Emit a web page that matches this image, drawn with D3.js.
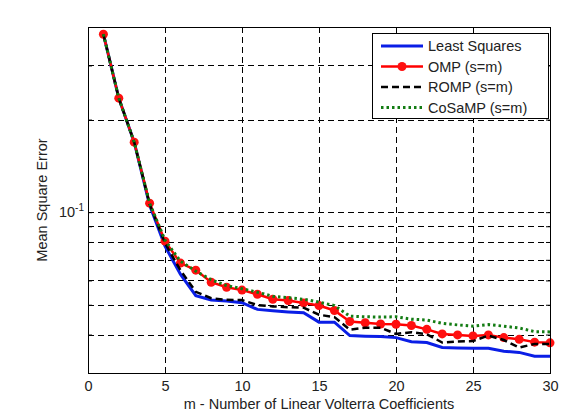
<!DOCTYPE html>
<html><head><meta charset="utf-8">
<script src="https://cdn.jsdelivr.net/npm/d3@7"></script>
<style>body{margin:0;background:#fff}svg{display:block}text{font-family:Arial,"Liberation Sans",sans-serif;fill:#222}</style>
</head><body><div id="chart"></div>
<script>
const mValues = d3.range(1, 31);
const leastSquares = [0.379,0.2348,0.1689,0.1054,0.0775,0.0629,0.0535,0.0518,0.0514,0.0508,0.0483,0.0478,0.0474,0.0471,0.0439,0.0439,0.0397,0.0395,0.0394,0.0391,0.0379,0.0377,0.0363,0.0362,0.0361,0.0361,0.0353,0.0350,0.0340,0.0340];
const omp = [0.379,0.2348,0.1689,0.1070,0.0805,0.0683,0.0648,0.0592,0.0570,0.0558,0.0541,0.0521,0.0516,0.0507,0.0497,0.0479,0.0441,0.0437,0.0433,0.0432,0.0428,0.0416,0.0402,0.0399,0.0396,0.0399,0.0391,0.0386,0.0378,0.0376];
const romp = [0.379,0.2348,0.1689,0.1062,0.0793,0.0648,0.0551,0.0525,0.0519,0.0518,0.0499,0.0494,0.0491,0.0489,0.0464,0.0456,0.0415,0.0421,0.0421,0.0402,0.0407,0.0401,0.0377,0.0380,0.0381,0.0397,0.0384,0.0363,0.0373,0.0373];
const cosamp = [0.379,0.2348,0.1689,0.1070,0.0811,0.0693,0.0643,0.0603,0.0577,0.0564,0.0549,0.0533,0.0527,0.0521,0.0510,0.0497,0.0459,0.0457,0.0456,0.0457,0.0449,0.0446,0.0435,0.0430,0.0426,0.0431,0.0426,0.0420,0.0409,0.0408];
const xTicks = [0,5,10,15,20,25,30];
const yGrid = [0.04,0.05,0.06,0.07,0.08,0.09,0.1,0.2,0.3];
const yTickLabels = [{v:0.1, base:"10", exp:"-1"}];
const seriesNames = ["Least Squares","OMP (s=m)","ROMP (s=m)","CoSaMP (s=m)"];

const W = 587, H = 413;
const L = 88, R = 550, T = 27, B = 373;
const svg = d3.select("#chart").append("svg").attr("width", W).attr("height", H);
const x = d3.scaleLinear().domain([0,30]).range([L,R]);
const y = d3.scaleLog().domain([0.03,0.4]).range([B,T]);

// grid
const g = svg.append("g");
g.selectAll(".vg").data(xTicks.filter(d=>d>0&&d<30)).join("line")
  .attr("x1",d=>x(d)+0.5).attr("x2",d=>x(d)+0.5).attr("y1",T).attr("y2",B)
  .attr("stroke","#000").attr("stroke-width",1).attr("stroke-dasharray","6,4");
g.selectAll(".hg").data(yGrid).join("line")
  .attr("x1",L).attr("x2",R).attr("y1",d=>Math.round(y(d))+0.5).attr("y2",d=>Math.round(y(d))+0.5)
  .attr("stroke","#000").attr("stroke-width",1).attr("stroke-dasharray","6,4");

// axes
const xAxis = d3.axisBottom(x).tickValues(xTicks).tickSize(-5).tickPadding(8);
const ax = svg.append("g").attr("transform",`translate(0,${B})`).call(xAxis);
ax.select(".domain").remove();
ax.selectAll("text").style("font-size","14.5px").attr("fill","#222");
const axT = svg.append("g").attr("transform",`translate(0,${T})`).call(d3.axisTop(x).tickValues(xTicks).tickSize(-5).tickFormat(""));
axT.select(".domain").remove();
const yl = svg.append("g").attr("transform",`translate(${L},0)`).call(d3.axisLeft(y).tickValues(yGrid).tickSize(-4).tickFormat(""));
yl.select(".domain").remove();
const yr = svg.append("g").attr("transform",`translate(${R},0)`).call(d3.axisRight(y).tickValues(yGrid).tickSize(-4).tickFormat(""));
yr.select(".domain").remove();
svg.selectAll(".tick line").attr("stroke","#000");

yTickLabels.forEach(t=>{
  const tx = svg.append("text").attr("x",L-4).attr("y",y(t.v)+5).attr("text-anchor","end").style("font-size","14.5px");
  tx.append("tspan").text(t.base);
  tx.append("tspan").attr("dy",-6).style("font-size","10px").text(t.exp);
});

// series
const line = d3.line().x((d,i)=>x(mValues[i])).y(d=>y(d));
const plot = svg.append("g");
plot.append("path").datum(leastSquares).attr("d",line).attr("fill","none").attr("stroke","#0a1ee6").attr("stroke-width",3);
plot.append("path").datum(omp).attr("d",line).attr("fill","none").attr("stroke","#ff0000").attr("stroke-width",2.5);
plot.selectAll(".omp").data(omp).join("circle").attr("cx",(d,i)=>x(mValues[i])).attr("cy",d=>y(d)).attr("r",4.5).attr("fill","#ff1010");
plot.append("path").datum(romp).attr("d",line).attr("fill","none").attr("stroke","#000").attr("stroke-width",2.5).attr("stroke-dasharray","7,4");
plot.append("path").datum(cosamp).attr("d",line).attr("fill","none").attr("stroke","#137c13").attr("stroke-width",3).attr("stroke-dasharray","2.5,3");

// frame
svg.append("rect").attr("x",L+0.5).attr("y",T+0.5).attr("width",R-L).attr("height",B-T).attr("fill","none").attr("stroke","#000").attr("stroke-width",1);

// legend
const lg = svg.append("g");
lg.append("rect").attr("x",372.5).attr("y",33.5).attr("width",176).attr("height",85).attr("fill","#fff").attr("stroke","#000");
const styles = [
  {c:"#0a1ee6",w:3,dash:null,m:false},
  {c:"#ff0000",w:2.5,dash:null,m:true},
  {c:"#000",w:2.5,dash:"7,4",m:false},
  {c:"#137c13",w:3,dash:"2.5,3",m:false}];
seriesNames.forEach((n,i)=>{
  const yy = 46 + i*20.5;
  const s = styles[i];
  lg.append("line").attr("x1",381).attr("x2",423).attr("y1",yy).attr("y2",yy).attr("stroke",s.c).attr("stroke-width",s.w).attr("stroke-dasharray",s.dash);
  if (s.m) lg.append("circle").attr("cx",402).attr("cy",yy).attr("r",4.5).attr("fill","#ff1010");
  lg.append("text").attr("x",428).attr("y",yy+5).style("font-size","14.5px").text(n);
});

// axis labels
svg.append("text").attr("x",(L+R)/2).attr("y",409).attr("text-anchor","middle").style("font-size","14.5px").text("m - Number of Linear Volterra Coefficients");
svg.append("text").attr("transform",`translate(47,${(T+B)/2}) rotate(-90)`).attr("text-anchor","middle").style("font-size","14.5px").text("Mean Square Error");
</script></body></html>
